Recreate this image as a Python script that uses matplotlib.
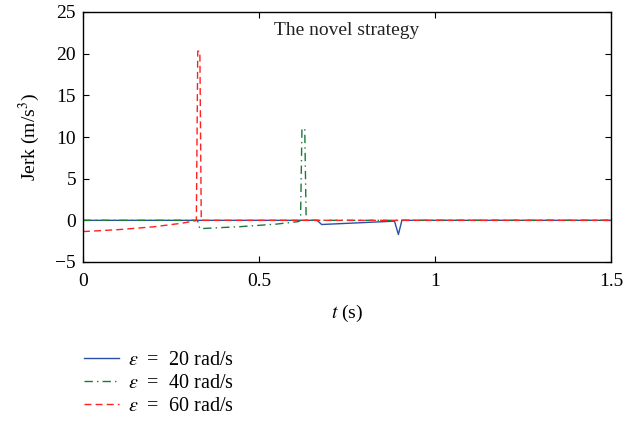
import matplotlib
matplotlib.use("Agg")
import matplotlib.pyplot as plt

plt.rcParams['font.family'] = ['Liberation Serif', 'DejaVu Serif']
plt.rcParams['mathtext.fontset'] = 'stix'

t20 = [0.0, 0.665, 0.678, 0.885, 0.896, 0.906, 1.5]
j20 = [0.0, 0.0, -0.5, -0.1, -1.7, 0.0, 0.0]

t40 = [0.0, 0.325, 0.332, 0.45, 0.55, 0.612, 0.618, 0.622, 0.630, 0.634, 1.5]
j40 = [0.0, 0.0, -1.0, -0.75, -0.45, -0.15, 0.0, 11.0, 11.0, 0.0, 0.0]

t60 = [0.0, 0.1, 0.2, 0.28, 0.32, 0.322, 0.326, 0.332, 0.336, 1.5]
j60 = [-1.35, -1.12, -0.78, -0.35, -0.05, 0.0, 20.3, 20.3, 0.0, 0.0]

labels = [r'$\varepsilon$  =  20 rad/s',
          r'$\varepsilon$  =  40 rad/s',
          r'$\varepsilon$  =  60 rad/s']

fig = plt.figure(figsize=(6.36, 4.26), dpi=100)
ax = fig.add_axes([83/636, 1-262/426, (611-83)/636, (262-12)/426])

l1, = ax.plot(t20, j20, color='#2b4fa8', lw=1.0, ls='-')
l2, = ax.plot(t40, j40, color='#1a7a3a', lw=1.0, ls=(0, (6, 3, 1, 3)))
l3, = ax.plot(t60, j60, color='#ff2020', lw=1.0, ls=(0, (5, 3)))

ax.set_xlim(0, 1.5)
ax.set_ylim(-5, 25)
ax.set_xticks([0, 0.5, 1, 1.5])
ax.set_xticklabels(['0', '0.5', '1', '1.5'])
ax.set_yticks([-5, 0, 5, 10, 15, 20, 25])
ax.set_yticklabels(['\u22125', '0', '5', '10', '15', '20', '25'])
ax.tick_params(direction='in', top=True, right=True, labelsize=14, length=4)
ax.tick_params(axis='x', pad=8)
ax.tick_params(axis='y', pad=5)
for s in ax.spines.values():
    s.set_linewidth(1.0)
ax.set_xlabel(r'$t$ (s)', fontsize=14, labelpad=9)
ax.set_ylabel(r'Jerk (m/s$^3$)', fontsize=14, labelpad=10)
ax.text(0.5, 0.925, 'The novel strategy', transform=ax.transAxes, ha='center', va='center', fontsize=14, color='#222222')

fig.legend([l1, l2, l3], labels, loc='upper left', bbox_to_anchor=(66/636, 1-333/426),
           frameon=False, fontsize=14.5, handlelength=1.75, handletextpad=0.45, labelspacing=0.2)

fig.savefig('out.png', dpi=100)
